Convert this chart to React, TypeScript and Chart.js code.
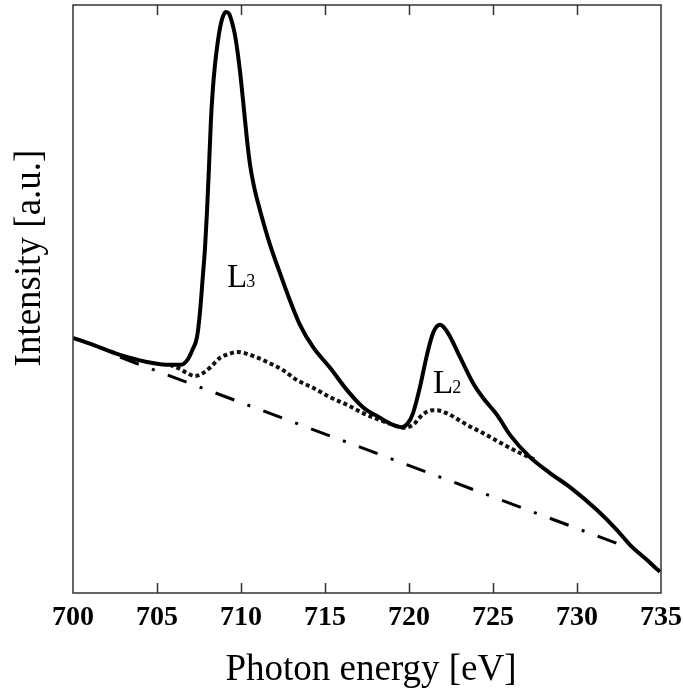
import { useEffect, useRef } from "react";
import { Chart, registerables } from "chart.js";

Chart.register(...registerables);

// ---- Data ----
const energyTickValues = [700, 705, 710, 715, 720, 725, 730, 735];
const innerTickValues = [705, 710, 715, 720, 725, 730];

const solidEnergy = [
  700.0, 701.2, 702.8, 704.4, 705.8, 706.4, 706.8, 707.1, 707.38, 707.56,
  707.71, 707.86, 707.98, 708.1, 708.21, 708.33, 708.45, 708.57, 708.69, 708.81,
  708.93, 709.11, 709.29, 709.46, 709.64, 709.82, 710.0, 710.18, 710.36, 710.54,
  710.77, 711.13, 711.73, 712.32, 712.92, 713.51, 714.29, 715.3, 716.31,
  717.26, 718.27, 719.05, 719.58, 719.94, 720.24, 720.65, 721.07, 721.43, 721.85,
  722.32, 723.04, 723.81, 724.4, 725.24, 726.01, 727.2, 728.39, 729.58, 731.19,
  732.38, 733.15, 734.17, 734.94,
];
const solidIntensity = [
  43.4, 42.2, 40.5, 39.3, 38.8, 38.8, 39.6, 41.3, 43.5, 47.8,
  53.2, 58.8, 65.1, 72.8, 80.4, 85.9, 89.8, 92.7, 95.1, 96.9,
  98.1, 98.8, 98.5, 97.1, 94.9, 91.5, 87.2, 82.1, 77.0, 72.8,
  69.2, 65.1, 59.2, 54.4, 49.7, 45.6, 41.8, 38.3, 34.5,
  31.6, 29.8, 28.6, 28.2, 28.9, 30.6, 35.0, 40.5, 44.2, 45.6,
  44.2, 40.1, 35.7, 33.2, 30.3, 26.9, 23.1, 20.4, 18.0, 14.1,
  10.7, 8.2, 5.6, 3.6,
];

const dottedEnergy = [
  705.77, 706.37, 706.79, 707.26, 707.74, 708.15, 708.75, 709.23, 709.76, 710.54,
  711.55, 712.5, 713.33, 714.29, 715.3, 716.31, 717.26, 718.27, 719.05, 719.64,
  720.24, 720.83, 721.43, 721.85, 722.44, 723.45, 724.4, 725.6, 726.61, 727.62,
];
const dottedIntensity = [
  38.8, 38.1, 37.4, 36.9, 37.4, 38.3, 40.0, 40.6, 41.0, 40.5,
  39.3, 37.9, 36.2, 34.9, 33.3, 32.0, 30.6, 29.4, 28.6, 28.1,
  28.6, 30.4, 31.1, 31.0, 30.3, 28.6, 27.2, 25.3, 23.8, 22.5,
];

const baselineEnergy = [702.8, 732.6];
const baselineIntensity = [40.1, 8.2];

const peakNames = ["L", "L"];
const peakSubscripts = ["3", "2"];
const peakLabelEnergy = [709.17, 721.43];
const peakLabelIntensity = [52.0, 34.0];

const xTitle = "Photon energy [eV]";
const yTitle = "Intensity [a.u.]";

const SERIF = '"Liberation Serif", "Times New Roman", serif';

const toXY = (xs: number[], ys: number[]) => xs.map((x, i) => ({ x, y: ys[i] }));

const overlayPlugin = {
  id: "overlay",
  afterDraw(chart: any) {
    const { ctx, chartArea: a, scales } = chart;
    const x = scales.x;
    const y = scales.y;
    ctx.save();
    // frame
    ctx.strokeStyle = "#333";
    ctx.lineWidth = 1.5;
    ctx.strokeRect(a.left, a.top, a.right - a.left, a.bottom - a.top);
    // inward ticks top & bottom
    ctx.beginPath();
    innerTickValues.forEach((v) => {
      const px = Math.round(x.getPixelForValue(v)) + 0.5;
      ctx.moveTo(px, a.bottom);
      ctx.lineTo(px, a.bottom - 10);
      ctx.moveTo(px, a.top);
      ctx.lineTo(px, a.top + 10);
    });
    ctx.stroke();
    // peak labels
    ctx.fillStyle = "#000";
    ctx.textBaseline = "alphabetic";
    ctx.textAlign = "left";
    peakNames.forEach((name, i) => {
      const px = x.getPixelForValue(peakLabelEnergy[i]);
      const py = y.getPixelForValue(peakLabelIntensity[i]);
      ctx.font = `33px ${SERIF}`;
      ctx.fillText(name, px, py);
      const w = ctx.measureText(name).width;
      ctx.font = `18px ${SERIF}`;
      ctx.fillText(peakSubscripts[i], px + w - 1, py);
    });
    // axis titles
    ctx.font = `37px ${SERIF}`;
    ctx.textAlign = "center";
    ctx.fillText(xTitle, (a.left + a.right) / 2 + 4, 680);
    ctx.translate(40, 258);
    ctx.rotate(-Math.PI / 2);
    ctx.fillText(yTitle, 0, 0);
    ctx.restore();
  },
};

export default function App() {
  const ref = useRef<HTMLCanvasElement | null>(null);

  useEffect(() => {
    if (!ref.current) return;
    const chart = new Chart(ref.current, {
      type: "line",
      data: {
        datasets: [
          {
            label: "spectrum",
            data: toXY(solidEnergy, solidIntensity),
            borderColor: "#000",
            borderWidth: 4,
            borderJoinStyle: "round",
            pointRadius: 0,
            cubicInterpolationMode: "monotone",
            fill: false,
            order: 0,
          },
          {
            label: "step",
            data: toXY(dottedEnergy, dottedIntensity),
            borderColor: "#111",
            borderWidth: 4,
            borderDash: [4, 3],
            borderCapStyle: "butt",
            pointRadius: 0,
            cubicInterpolationMode: "monotone",
            fill: false,
            order: 1,
          },
          {
            label: "background",
            data: toXY(baselineEnergy, baselineIntensity),
            borderColor: "#000",
            borderWidth: 3,
            borderDash: [20, 14, 3, 14],
            pointRadius: 0,
            fill: false,
            order: 2,
          },
        ],
      },
      options: {
        animation: false,
        responsive: false,
        maintainAspectRatio: false,
        layout: { padding: { top: 5, right: 23, left: 0, bottom: 0 } },
        plugins: { legend: { display: false }, tooltip: { enabled: false } },
        scales: {
          x: {
            type: "linear",
            min: 700,
            max: 735,
            afterBuildTicks: (scale: any) => {
              scale.ticks = energyTickValues.map((v) => ({ value: v }));
            },
            ticks: {
              color: "#000",
              font: { family: SERIF, size: 28, weight: "bold" },
              padding: 8,
              maxRotation: 0,
            },
            grid: { display: false, drawTicks: false },
            border: { display: false },
            afterFit: (scale: any) => {
              scale.height = 96;
              scale.paddingLeft = 0;
              scale.paddingRight = 0;
            },
          },
          y: {
            type: "linear",
            min: 0,
            max: 100,
            ticks: { display: false },
            grid: { display: false, drawTicks: false },
            border: { display: false },
            afterFit: (scale: any) => {
              scale.width = 73;
              scale.paddingTop = 0;
              scale.paddingBottom = 0;
            },
          },
        },
      },
      plugins: [overlayPlugin],
    } as any);
    return () => chart.destroy();
  }, []);

  return (
    <div style={{ position: "fixed", left: 0, top: 0, width: 684, height: 689, background: "#fff" }}>
      <canvas ref={ref} width={684} height={689} style={{ display: "block" }} />
    </div>
  );
}
